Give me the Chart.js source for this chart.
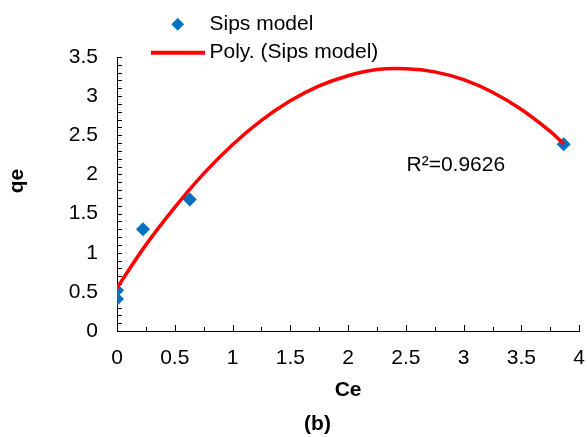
<!DOCTYPE html>
<html>
<head>
<meta charset="utf-8">
<script src="https://cdn.jsdelivr.net/npm/chart.js@4/dist/chart.umd.min.js"></script>
<style>
html,body{margin:0;padding:0;overflow:hidden;background:#fff;width:587px;height:437px}
canvas{display:block}
</style>
</head>
<body>
<canvas id="c" width="600" height="437"></canvas>
<script>
// ---- data ----
const ceData = [0, 0, 0.225, 0.63, 3.866];
const qeData = [0.41, 0.52, 1.30, 1.68, 2.385];
const polyCe = [0, 0.25, 0.5, 0.75, 1, 1.25, 1.5, 1.75, 2, 2.25, 2.5, 2.75, 3, 3.25, 3.5, 3.75, 3.866];
const polyQe = [0.55, 1.10, 1.58, 2.01, 2.38, 2.69, 2.94, 3.13, 3.26, 3.34, 3.35, 3.31, 3.21, 3.05, 2.83, 2.55, 2.39];
const xTicks = [0, 0.5, 1, 1.5, 2, 2.5, 3, 3.5, 4];
const xTickLabels = ['0', '0.5', '1', '1.5', '2', '2.5', '3', '3.5', '4'];
const yTicks = [0, 0.5, 1, 1.5, 2, 2.5, 3, 3.5];
const yTickLabels = ['0', '0.5', '1', '1.5', '2', '2.5', '3', '3.5'];
const seriesLabel = 'Sips model';
const trendLabel = 'Poly. (Sips model)';
const r2Label = 'R²=0.9626';
const xTitle = 'Ce';
const yTitle = 'qe';
const caption = '(b)';

const FONT = "'Liberation Sans', Arial, sans-serif";
Chart.defaults.font.family = FONT;
Chart.defaults.color = '#000';

const innerTicks = {
  id: 'innerTicks',
  beforeDatasetsDraw(chart) {
    const {ctx, chartArea: a, scales: {x, y}} = chart;
    ctx.save();
    ctx.strokeStyle = '#000';
    ctx.lineWidth = 1;
    ctx.beginPath();
    for (let i = 1; i <= 16; i++) {
      const px = Math.round(x.getPixelForValue(i * 0.25)) + 0.5;
      const len = (i % 2 === 0) ? 6 : 4;
      ctx.moveTo(px, a.bottom);
      ctx.lineTo(px, a.bottom - len);
    }
    for (let i = 1; i <= 35; i++) {
      const py = Math.round(y.getPixelForValue(i / 10)) + 0.5;
      ctx.moveTo(a.left, py);
      ctx.lineTo(a.left + 5, py);
    }
    ctx.stroke();
    ctx.restore();
  }
};

const annotations = {
  id: 'annotations',
  afterDraw(chart) {
    const {ctx} = chart;
    const ds = chart.data.datasets;
    ctx.save();
    // legend
    ctx.fillStyle = ds[1].backgroundColor;
    ctx.beginPath();
    const cx = 177.7, cy = 24.3, r = 6.4;
    ctx.moveTo(cx - r, cy); ctx.lineTo(cx, cy - r); ctx.lineTo(cx + r, cy); ctx.lineTo(cx, cy + r);
    ctx.closePath(); ctx.fill();
    ctx.strokeStyle = ds[0].borderColor;
    ctx.lineWidth = 4;
    ctx.beginPath(); ctx.moveTo(151, 52.7); ctx.lineTo(205, 52.7); ctx.stroke();
    ctx.fillStyle = '#000';
    ctx.font = "21px " + FONT;
    ctx.textAlign = 'left';
    ctx.textBaseline = 'middle';
    ctx.fillText(ds[1].label, 209.5, 23.8);
    ctx.fillText(ds[0].label, 209.5, 52.5);
    // R2
    ctx.fillText(r2Label, 406.5, 165.4);
    // caption
    ctx.font = "bold 21px " + FONT;
    ctx.textAlign = 'center';
    ctx.fillText(caption, 317.5, 424.7);
    // y title
    ctx.translate(17.6, 181);
    ctx.rotate(-Math.PI / 2);
    ctx.fillText(yTitle, 0, 0);
    ctx.restore();
  }
};

new Chart(document.getElementById('c'), {
  type: 'scatter',
  data: {
    datasets: [
      {
        label: trendLabel,
        data: polyCe.map((v, i) => ({x: v, y: polyQe[i]})),
        showLine: true,
        borderColor: '#FF0000',
        backgroundColor: '#FF0000',
        borderWidth: 3.5,
        pointRadius: 0,
        pointHoverRadius: 0,
        tension: 0.4,
        fill: false,
        order: 0
      },
      {
        label: seriesLabel,
        data: ceData.map((v, i) => ({x: v, y: qeData[i]})),
        pointStyle: 'rectRot',
        pointRadius: 7,
        pointBorderWidth: 0,
        borderWidth: 0,
        backgroundColor: '#0070C0',
        borderColor: '#0070C0',
        showLine: false,
        order: 1
      }
    ]
  },
  options: {
    responsive: false,
    animation: false,
    layout: {padding: {left: 0, right: 15, top: 57, bottom: 34.5}},
    plugins: {legend: {display: false}, tooltip: {enabled: false}},
    scales: {
      x: {
        type: 'linear', min: 0, max: 4,
        afterBuildTicks: s => { s.ticks = xTicks.map(v => ({value: v})); },
        afterFit: s => { s.height = 71.5; },
        grid: {display: false, drawTicks: false},
        border: {display: true, color: '#000', width: 1},
        ticks: {padding: 15, color: '#000', font: {size: 21}, maxRotation: 0, autoSkip: false,
          callback: (v) => { const i = xTicks.indexOf(v); return i >= 0 ? xTickLabels[i] : ''; }},
        title: {display: true, text: xTitle, color: '#000', font: {size: 21, weight: 'bold'}, padding: {top: 0, bottom: 0}}
      },
      y: {
        type: 'linear', min: 0, max: 3.5,
        afterBuildTicks: s => { s.ticks = yTicks.map(v => ({value: v})); },
        afterFit: s => { s.width = 117; },
        grid: {display: false, drawTicks: false},
        border: {display: true, color: '#000', width: 1},
        ticks: {padding: 19, color: '#000', font: {size: 21}, autoSkip: false,
          callback: (v) => { const i = yTicks.indexOf(v); return i >= 0 ? yTickLabels[i] : ''; }},
        title: {display: false}
      }
    }
  },
  plugins: [innerTicks, annotations]
});
</script>
</body>
</html>
